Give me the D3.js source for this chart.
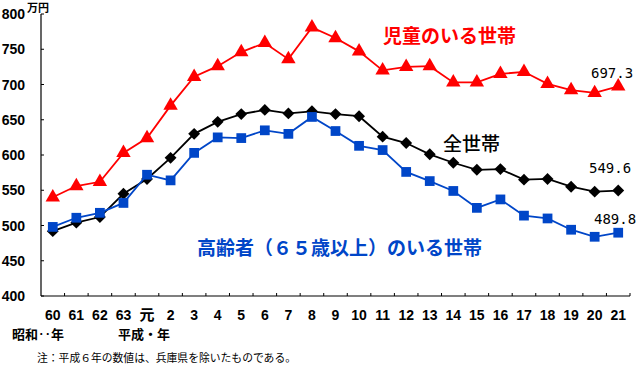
<!DOCTYPE html>
<html><head><meta charset="utf-8">
<script src="https://cdn.jsdelivr.net/npm/d3@7"></script>
<style>body{margin:0;background:#fff}svg{display:block}</style>
</head><body>
<svg id="c" width="640" height="367"></svg>
<script>
const categories = ["60","61","62","63","元","2","3","4","5","6","7","8","9","10","11","12","13","14","15","16","17","18","19","20","21"];
const children = [540,556,562,603,624,670,711,726,746,759,736,781,766,747,720,725,726,703,703,715,718,701,692,688,697.3];
const allHouseholds = [492,504,512,545,566,596,630,647,658,664,659,662,658,655,626,617,601,589,579,580,565,566,555,548,549.6];
const elderly = [498,511,518,532,572,564,603,625,624,635,630,654,634,613,607,576,563,549,525,537,514,510,494,484,489.8];
const yTicks = [400,450,500,550,600,650,700,750,800];

const svg = d3.select("#c");
const jp = "'Noto Sans CJK JP', sans-serif";
const x = d3.scaleBand().domain(categories).range([41,630]);
const y = d3.scaleLinear().domain([400,800]).range([296,14]);
const cx = d => x(d) + x.bandwidth()/2;

// axes
svg.append("line").attr("x1",41).attr("x2",41).attr("y1",14).attr("y2",296).attr("stroke","#000").attr("stroke-width",1.2);
svg.append("line").attr("x1",41).attr("x2",630).attr("y1",296).attr("y2",296).attr("stroke","#000").attr("stroke-width",1.2);
svg.selectAll(".yt").data(yTicks).enter().append("line")
  .attr("x1",41).attr("x2",44).attr("y1",d=>y(d)).attr("y2",d=>y(d)).attr("stroke","#000");
svg.selectAll(".yl").data(yTicks).enter().append("text")
  .attr("x",25).attr("y",d=>y(d)+5).attr("text-anchor","end")
  .attr("font-family","'Liberation Sans', Arial, sans-serif").attr("font-weight","bold").attr("font-size",14)
  .text(d=>d);
const bounds = categories.slice(1).map(c=>x(c)).concat([630]);
svg.selectAll(".xt").data(bounds).enter().append("line")
  .attr("x1",d=>d).attr("x2",d=>d).attr("y1",296).attr("y2",293).attr("stroke","#000");
svg.selectAll(".xl").data(categories).enter().append("text")
  .attr("x",d=>cx(d)).attr("y",320).attr("text-anchor","middle")
  .attr("font-family",d=>d==="元"?jp:"'Liberation Sans', Arial, sans-serif")
  .attr("font-weight","bold").attr("font-size",d=>d==="元"?15:14).text(d=>d);

svg.append("text").attr("x",27).attr("y",12).attr("font-family",jp).attr("font-weight","bold").attr("font-size",11).text("万円");
svg.append("text").attr("x",12).attr("y",339).attr("font-family",jp).attr("font-weight","bold").attr("font-size",13).text("昭和‥年");
svg.append("text").attr("x",118).attr("y",339).attr("font-family",jp).attr("font-weight","bold").attr("font-size",13).text("平成・年");
svg.append("text").attr("x",37).attr("y",362).attr("font-family",jp).attr("font-size",10.8).text("注：平成６年の数値は、兵庫県を除いたものである。");

const line = d3.line().x((d,i)=>cx(categories[i])).y(d=>y(d));
function series(vals, color, sym, size){
  svg.append("path").attr("d",line(vals)).attr("fill","none").attr("stroke",color).attr("stroke-width",1.8);
  svg.selectAll(null).data(vals).enter().append("path")
    .attr("transform",(d,i)=>`translate(${cx(categories[i])},${y(d)})`)
    .attr("d",d3.symbol().type(sym).size(size)).attr("fill",color);
}
series(allHouseholds,"#000",d3.symbolDiamond2 || d3.symbolDiamond, 90);
series(elderly,"#0046C8",d3.symbolSquare,95);
series(children,"#FF0000",d3.symbolTriangle,90);

svg.append("text").attr("x",383).attr("y",43).attr("font-family",jp).attr("font-weight","bold").attr("font-size",19).attr("fill","#FF0000").text("児童のいる世帯");
svg.append("text").attr("x",443).attr("y",151).attr("font-family",jp).attr("font-weight",500).attr("font-size",19).attr("fill","#000").text("全世帯");
svg.append("text").attr("x",197).attr("y",255).attr("font-family",jp).attr("font-weight","bold").attr("font-size",19).attr("fill","#0046C8").text("高齢者（６５歳以上）のいる世帯");

const mono = "'DejaVu Sans Mono', monospace";
[[children,591,78],[allHouseholds,589,173],[elderly,594,224]].forEach(([v,xx,yy])=>{
  svg.append("text").attr("x",xx).attr("y",yy).attr("font-family",mono).attr("font-size",14).attr("fill","#000").text(v[v.length-1].toFixed(1));
});
</script>
</body></html>
